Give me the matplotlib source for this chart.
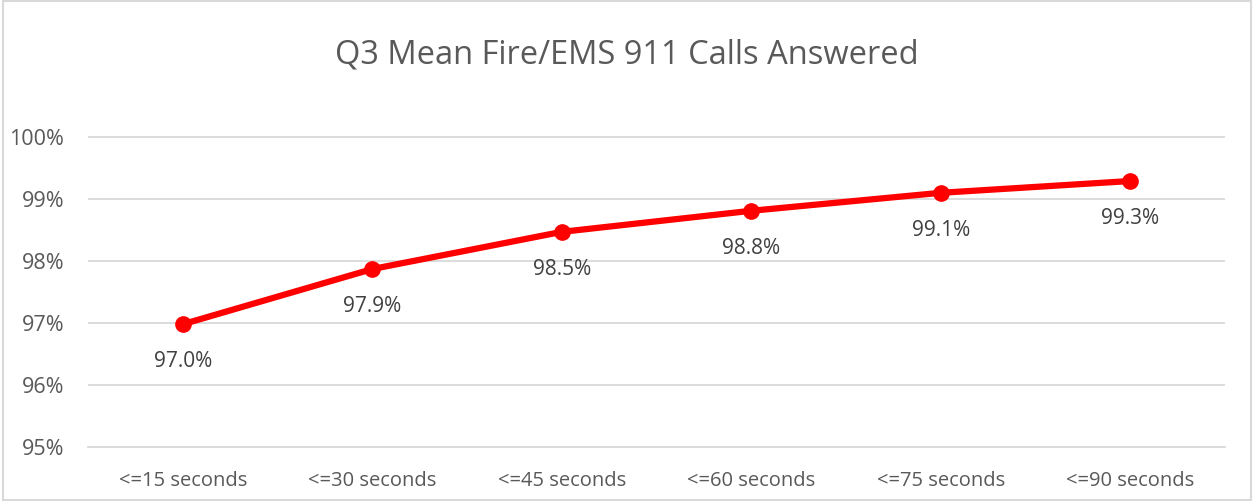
import matplotlib.pyplot as plt
from matplotlib.patches import Rectangle

categories = ["<=15 seconds", "<=30 seconds", "<=45 seconds",
              "<=60 seconds", "<=75 seconds", "<=90 seconds"]
answered_pct = [96.98, 97.87, 98.47, 98.81, 99.10, 99.29]
y_ticks = [95, 96, 97, 98, 99, 100]

plt.rcParams["font.family"] = ["Open Sans", "DejaVu Sans"]

fig = plt.figure(figsize=(12.54, 5.01), dpi=100)
ax = fig.add_axes([88 / 1254, 1 - 447 / 501, (1225 - 88) / 1254, (447 - 105) / 501])

x = list(range(len(categories)))
ax.plot(x, answered_pct, color="#ff0000", linewidth=4.5, marker="o",
        markersize=11, solid_capstyle="round", zorder=3)

for xi, v in zip(x, answered_pct):
    ax.annotate(f"{v:.1f}%", (xi, v), xytext=(0, -27), textcoords="offset points",
                ha="center", va="center", fontsize=15, color="#404040")

ax.set_xlim(-0.5, len(categories) - 0.5)
ax.set_ylim(95, 100.0 + (447 - 105) / 62 - 5)
ax.set_yticks(y_ticks)
ax.set_yticklabels([f"{t}%" for t in y_ticks])
ax.set_xticks(x)
ax.set_xticklabels(categories)
ax.tick_params(length=0, labelcolor="#595959")
ax.tick_params(axis="x", pad=17, labelsize=14.5)
ax.tick_params(axis="y", pad=17, labelsize=15.5)
ax.grid(axis="y", color="#d9d9d9", linewidth=1.3)
ax.set_axisbelow(True)
for side in ["top", "right", "left"]:
    ax.spines[side].set_visible(False)
ax.spines["bottom"].set_color("#d9d9d9")
ax.spines["bottom"].set_linewidth(1.3)

fig.text(0.5, 1 - 55 / 501, "Q3 Mean Fire/EMS 911 Calls Answered", ha="center",
         va="center", fontsize=23.5, color="#595959")

fig.patches.append(Rectangle((0.002, 0.002), 0.996, 0.996, transform=fig.transFigure,
                             fill=False, edgecolor="#d9d9d9", linewidth=1.5))

fig.savefig("out.png", dpi=100)
